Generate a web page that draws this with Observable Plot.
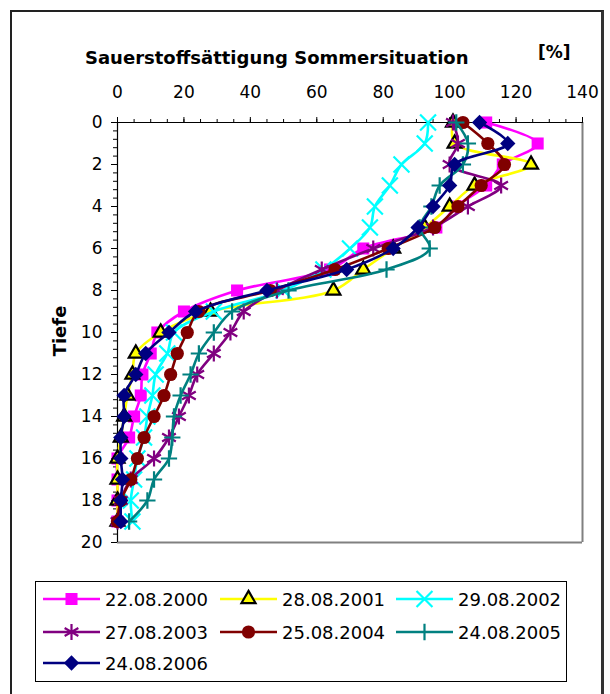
<!DOCTYPE html>
<html><head><meta charset="utf-8">
<script src="https://cdn.jsdelivr.net/npm/d3@7"></script>
<script src="https://cdn.jsdelivr.net/npm/@observablehq/plot@0.6"></script>
<style>
body{margin:0;background:#fff;}
#wrap{position:relative;width:610px;height:694px;overflow:hidden;font-family:"DejaVu Sans",sans-serif;color:#000;}
#frame{position:absolute;left:10px;top:10px;width:589px;height:720px;border-left:2px solid #222;border-top:2px solid #222;border-right:3px solid #333;}
#chart{position:absolute;left:0;top:0;}
#title{position:absolute;left:85px;top:48px;font-weight:bold;font-size:18px;line-height:20px;white-space:nowrap;}
#unit{position:absolute;left:538px;top:42px;font-weight:bold;font-size:17px;line-height:20px;}
#ylabel{position:absolute;left:60px;top:331px;font-weight:bold;font-size:18px;line-height:20px;transform:translate(-50%,-50%) rotate(-90deg);white-space:nowrap;}
#legend{position:absolute;left:35px;top:581px;width:530px;height:99px;border:1px solid #000;background:#fff;}
.item{position:absolute;height:22px;display:flex;align-items:center;font-size:18px;white-space:nowrap;}
.item svg{margin-right:5px;}
</style></head><body>
<div id="wrap">
  <div id="frame"></div>
  <div id="chart"></div>
  <div id="title">Sauerstoffsättigung Sommersituation</div>
  <div id="unit">[%]</div>
  <div id="ylabel">Tiefe</div>
  <div id="legend"></div>
</div>
<script>
const depth = [0,1,2,3,4,5,6,7,8,9,10,11,12,13,14,15,16,17,18,19];
const seriesNames = ["22.08.2000","28.08.2001","29.08.2002","27.08.2003","25.08.2004","24.08.2005","24.08.2006"];
const s2000 = [111,126.5,116,111,102,96,74,64,36,20,12,10,7.5,7,5,3.5,0,0,0,0];
const s2001 = [101,101.5,124.5,107.5,100,92.5,83,74,65,28,13,5.5,4.5,3,2,1,0,0,0,0];
const s2002 = [93.5,92.5,85.5,82,77.5,76,70,62,50,29,17,15,11.5,10.5,9,8,6,5,4,4.5];
const s2003 = [101,102.5,100,115.5,105.5,95,77,61.5,48,38,34,29,24,21.5,18.5,15.5,11,4,1,0];
const s2004 = [104,111.5,116.5,109.5,102.5,95.5,81.5,65.5,46,24.5,21,18,16,14,11,8,6,4,1,0];
const s2005 = [102,105.5,104,97,94.5,91,94,81,51.5,34.5,29,24.5,22,19,17,16.5,15.5,11,9,3.5];
const s2006 = [109,117.5,101.5,100,95,90.5,83,69,45,23.5,15.5,8.5,5.5,2,2,1,1,1.5,1,1];
const xTicks = [0,20,40,60,80,100,120,140];
const yTicks = [0,2,4,6,8,10,12,14,16,18,20];

const values = [s2000,s2001,s2002,s2003,s2004,s2005,s2006];
const styles = [
  {color:"#ff00ff", symbol:"square", r:6.8, fill:"#ff00ff", stroke:"none", sw:0, d3s:d3.symbolSquare},
  {color:"#ffff00", symbol:"triangle", r:5.2, fill:"#ffff00", stroke:"#000", sw:2.2, d3s:d3.symbolTriangle},
  {color:"#00ffff", symbol:"times", r:7.3, fill:"none", stroke:"#00ffff", sw:2.2, d3s:d3.symbolTimes},
  {color:"#800080", symbol:"asterisk", r:7.5, fill:"none", stroke:"#800080", sw:2.2, d3s:d3.symbolAsterisk},
  {color:"#800000", symbol:"circle", r:6.6, fill:"#800000", stroke:"none", sw:0, d3s:d3.symbolCircle},
  {color:"#008080", symbol:"plus", r:5.3, fill:"none", stroke:"#008080", sw:2.2, d3s:d3.symbolPlus},
  {color:"#000080", symbol:"diamond2", r:6.9, fill:"#000080", stroke:"none", sw:0, d3s:d3.symbolDiamond2}
];

const marks = [];
marks.push(Plot.ruleX([140], {stroke:"#808080", strokeWidth:2}));
marks.push(Plot.ruleY([20], {stroke:"#808080", strokeWidth:2}));
marks.push(Plot.axisX({anchor:"top", ticks:d3.range(0,141,5), tickSize:4, tickFormat:() => "", label:null}));
marks.push(Plot.axisX({anchor:"top", ticks:xTicks, tickSize:6, tickPadding:19, fontSize:17, label:null}));
marks.push(Plot.axisY({anchor:"left", ticks:d3.range(0,50).map(i => i*0.4), tickSize:4, tickFormat:() => "", label:null}));
marks.push(Plot.axisY({anchor:"left", ticks:yTicks, tickSize:6, tickPadding:9, fontSize:17, label:null}));
marks.push(Plot.ruleY([0], {stroke:"#000", strokeWidth:1.2}));
marks.push(Plot.ruleX([0], {stroke:"#000", strokeWidth:1.2}));

values.forEach((vals, k) => {
  const st = styles[k];
  const rows = depth.map((d, i) => ({depth:d, value:vals[i], series:seriesNames[k]}));
  marks.push(Plot.line(rows, {x:"value", y:"depth", stroke:st.color, strokeWidth:2.6, curve:"catmull-rom"}));
  marks.push(Plot.dot(rows, {x:"value", y:"depth", symbol:st.symbol, r:st.r, fill:st.fill, stroke:st.stroke, strokeWidth:st.sw}));
});

const chart = Plot.plot({
  width:610, height:560,
  marginTop:122, marginLeft:117, marginRight:28, marginBottom:18,
  style:{fontFamily:"DejaVu Sans", fontSize:"17px", color:"#000", background:"transparent", overflow:"visible"},
  x:{domain:[0,140]},
  y:{domain:[0,20], reverse:true},
  marks
});
document.getElementById("chart").appendChild(chart);

// legend
const legend = document.getElementById("legend");
const pos = [[7,17],[184,17],[360,17],[7,50],[184,50],[360,50],[7,81]];
seriesNames.forEach((name, k) => {
  const st = styles[k];
  const div = document.createElement("div");
  div.className = "item";
  div.style.left = pos[k][0] + "px";
  div.style.top = (pos[k][1] - 11) + "px";
  const size = st.r * st.r * Math.PI;
  const path = d3.symbol(st.d3s, size)();
  div.innerHTML = `<svg width="57" height="22" viewBox="0 0 57 22"><line x1="0" x2="57" y1="11" y2="11" stroke="${st.color}" stroke-width="2.6"/>` +
    `<path d="${path}" transform="translate(28.5,11)" fill="${st.fill}" stroke="${st.stroke}" stroke-width="${st.sw}"/></svg><span>${name}</span>`;
  legend.appendChild(div);
});
</script>
</body></html>
